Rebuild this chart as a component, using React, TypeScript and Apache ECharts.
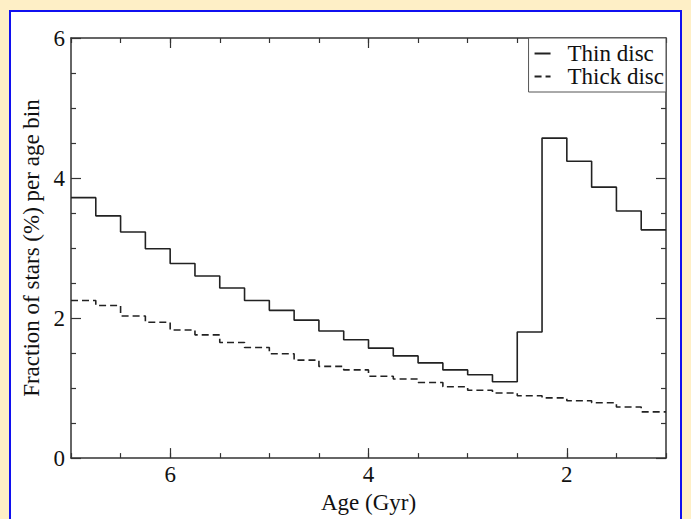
import React, { useEffect, useRef } from "react";
import * as echarts from "echarts";

// Bin start ages (Gyr); the last bin ends at ageEnd
const ageStart = [7, 6.75, 6.5, 6.25, 6, 5.75, 5.5, 5.25, 5, 4.75, 4.5, 4.25, 4, 3.75, 3.5, 3.25, 3, 2.75, 2.5, 2.25, 2, 1.75, 1.5, 1.25];
const ageEnd = 1;
const thinDisc = [3.72, 3.46, 3.23, 2.99, 2.78, 2.6, 2.43, 2.25, 2.11, 1.97, 1.815, 1.69, 1.57, 1.46, 1.36, 1.26, 1.19, 1.09, 1.8, 4.57, 4.24, 3.87, 3.53, 3.26];
const thickDisc = [2.25, 2.18, 2.03, 1.94, 1.83, 1.76, 1.65, 1.58, 1.49, 1.4, 1.31, 1.26, 1.17, 1.13, 1.08, 1.02, 0.97, 0.93, 0.89, 0.86, 0.82, 0.79, 0.73, 0.66];
const xMajorTicks = [2, 4, 6];
const seriesNames = ["Thin disc", "Thick disc"];

const FONT = "Liberation Serif";
const FS = 23;
const INK = "#222";
const AXIS = "#333";

function stepData(vals: number[]) {
  const d: number[][] = ageStart.map((a, i) => [a, vals[i]]);
  d.push([ageEnd, vals[vals.length - 1]]);
  return d;
}

export default function App() {
  const ref = useRef<HTMLDivElement>(null);
  useEffect(() => {
    if (!ref.current) return;
    const chart = echarts.init(ref.current, null, { renderer: "svg" });
    const xBase = { type: "value", min: 1, max: 7, inverse: true, gridIndex: 0, splitLine: { show: false } };
    const yBase = { type: "value", min: 0, max: 6, gridIndex: 0, splitLine: { show: false } };
    const axisLine = { show: true, lineStyle: { color: AXIS, width: 1.5 } };
    chart.setOption({
      animation: false,
      grid: { left: 71, right: 25, top: 38, bottom: 56, containLabel: false },
      legend: {
        data: seriesNames,
        orient: "vertical",
        right: 25,
        top: 38,
        itemWidth: 16,
        itemHeight: 10,
        itemGap: 0,
        padding: [4, 2, 4, 5],
        borderColor: "#555",
        borderWidth: 1,
        backgroundColor: "#fff",
        itemStyle: { color: "rgba(0,0,0,0)", borderColor: "rgba(0,0,0,0)", borderWidth: 0 },
        textStyle: { fontFamily: FONT, fontSize: FS, color: "#111", lineHeight: 19, padding: [0, 0, 0, 12] },
      },
      xAxis: [
        {
          ...xBase,
          position: "bottom",
          interval: 0.5,
          name: "Age (Gyr)",
          nameLocation: "middle",
          nameGap: 17,
          nameTextStyle: { fontFamily: FONT, fontSize: FS, color: "#111" },
          axisLine,
          axisTick: { show: true, inside: true, length: 5, lineStyle: { color: AXIS, width: 1.2 } },
          axisLabel: {
            margin: 5,
            fontFamily: FONT,
            fontSize: FS,
            color: "#111",
            formatter: (v: number) => (xMajorTicks.includes(v) ? String(v) : ""),
          },
        },
        {
          ...xBase,
          position: "bottom",
          interval: 0.5,
          axisLine: { show: false },
          axisLabel: { show: false },
          axisTick: { show: true, inside: true, length: 10, customValues: xMajorTicks, lineStyle: { color: AXIS, width: 1.2 } },
        },
        {
          ...xBase,
          position: "top",
          interval: 0.5,
          axisLine,
          axisLabel: { show: false },
          axisTick: { show: true, inside: true, length: 5, lineStyle: { color: AXIS, width: 1.2 } },
        },
        {
          ...xBase,
          position: "top",
          interval: 0.5,
          axisLine: { show: false },
          axisLabel: { show: false },
          axisTick: { show: true, inside: true, length: 10, customValues: xMajorTicks, lineStyle: { color: AXIS, width: 1.2 } },
        },
      ],
      yAxis: [
        {
          ...yBase,
          position: "left",
          interval: 2,
          name: "Fraction of stars (%) per age bin",
          nameLocation: "middle",
          nameGap: 16,
          nameTextStyle: { fontFamily: FONT, fontSize: FS, color: "#111" },
          axisLine,
          axisTick: { show: true, inside: true, length: 10, lineStyle: { color: AXIS, width: 1.2 } },
          minorTick: { show: true, splitNumber: 4, length: 5, lineStyle: { color: AXIS, width: 1.2 } },
          axisLabel: { margin: 6, fontFamily: FONT, fontSize: FS, color: "#111" },
        },
        {
          ...yBase,
          position: "right",
          interval: 2,
          axisLine,
          axisLabel: { show: false },
          axisTick: { show: true, inside: true, length: 10, lineStyle: { color: AXIS, width: 1.2 } },
          minorTick: { show: true, splitNumber: 4, length: 5, lineStyle: { color: AXIS, width: 1.2 } },
        },
      ],
      series: [
        {
          name: seriesNames[0],
          type: "line",
          step: "end",
          symbol: "none",
          xAxisIndex: 0,
          yAxisIndex: 0,
          data: stepData(thinDisc),
          lineStyle: { color: INK, width: 1.6, type: "solid" },
          itemStyle: { color: INK },
        },
        {
          name: seriesNames[1],
          type: "line",
          step: "end",
          symbol: "none",
          xAxisIndex: 0,
          yAxisIndex: 0,
          data: stepData(thickDisc),
          lineStyle: { color: INK, width: 1.6, type: [7, 4] },
          itemStyle: { color: INK },
        },
      ],
    });
    return () => chart.dispose();
  }, []);

  return (
    <div style={{ position: "fixed", left: 0, top: 0, width: 691, height: 519, background: "#FEEFC6", overflow: "hidden" }}>
      <div
        style={{
          position: "absolute",
          left: 9,
          top: 10,
          width: 673,
          height: 530,
          boxSizing: "border-box",
          background: "#fff",
          borderLeft: "2px solid #1010f0",
          borderTop: "2px solid #1010f0",
          borderRight: "2px solid #1010f0",
        }}
      />
      <div ref={ref} style={{ position: "absolute", left: 0, top: 0, width: 691, height: 519 }} />
    </div>
  );
}
